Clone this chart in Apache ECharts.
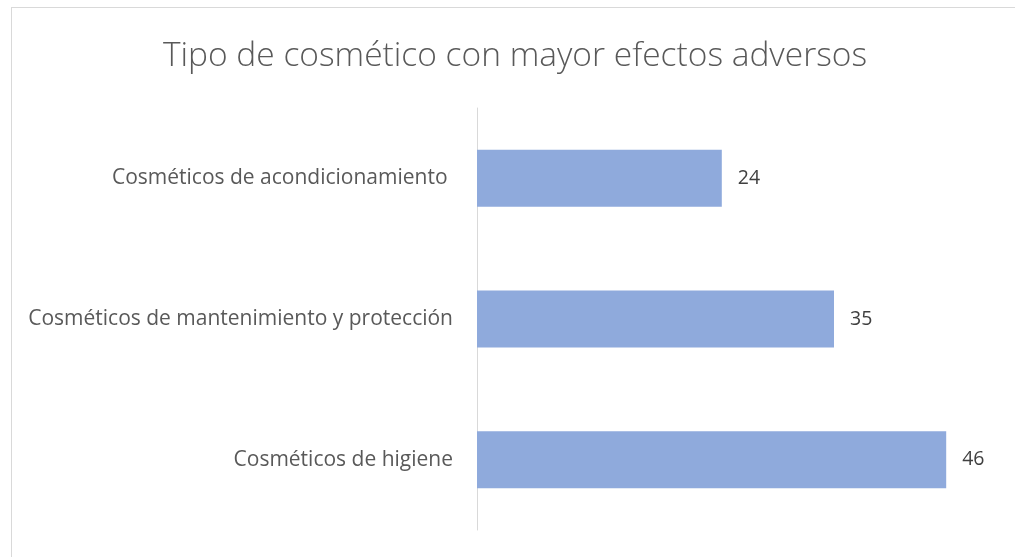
<!DOCTYPE html>
<html>
<head>
<meta charset="utf-8">
<script src="https://cdn.jsdelivr.net/npm/echarts@6/dist/echarts.min.js"></script>
<style>
html,body{margin:0;padding:0;background:#fff;}
#frame{position:absolute;left:11px;top:7px;width:1100px;height:600px;border-left:1px solid #d9d9d9;border-top:1px solid #d9d9d9;}
#c{position:absolute;left:0;top:0;width:1015px;height:557px;}
</style>
</head>
<body>
<div id="frame"></div>
<div id="c"></div>
<script>
const categories = ["Cosméticos de higiene", "Cosméticos de mantenimiento y protección", "Cosméticos de acondicionamiento "];
const values = [46, 35, 24];
const titleText = "Tipo de cosmético con mayor efectos adversos";

const chart = echarts.init(document.getElementById('c'));
chart.setOption({
  animation: false,
  title: {
    text: titleText,
    left: 510, textAlign: 'center', top: 34,
    textStyle: {fontFamily: 'Open Sans', fontWeight: 300, fontSize: 33.5, color: '#595959'}
  },
  grid: {left: 477, right: 28, top: 108, bottom: 27, containLabel: false},
  xAxis: {type: 'value', min: 0, max: 50, show: false},
  yAxis: {
    type: 'category', data: categories,
    axisLine: {lineStyle: {color: '#d9d9d9', width: 1}},
    axisTick: {show: false},
    axisLabel: {margin: 24, fontFamily: 'Open Sans', fontSize: 21, color: '#595959', lineHeight: 30, padding: [10, 0, 0, 0]}
  },
  series: [{
    type: 'bar', data: values, barWidth: 57,
    itemStyle: {color: '#8faadc'},
    label: {show: true, position: 'right', distance: 16, fontFamily: 'Open Sans', fontSize: 19.5, color: '#404040', padding: [10, 0, 0, 0]}
  }]
});
</script>
</body>
</html>
